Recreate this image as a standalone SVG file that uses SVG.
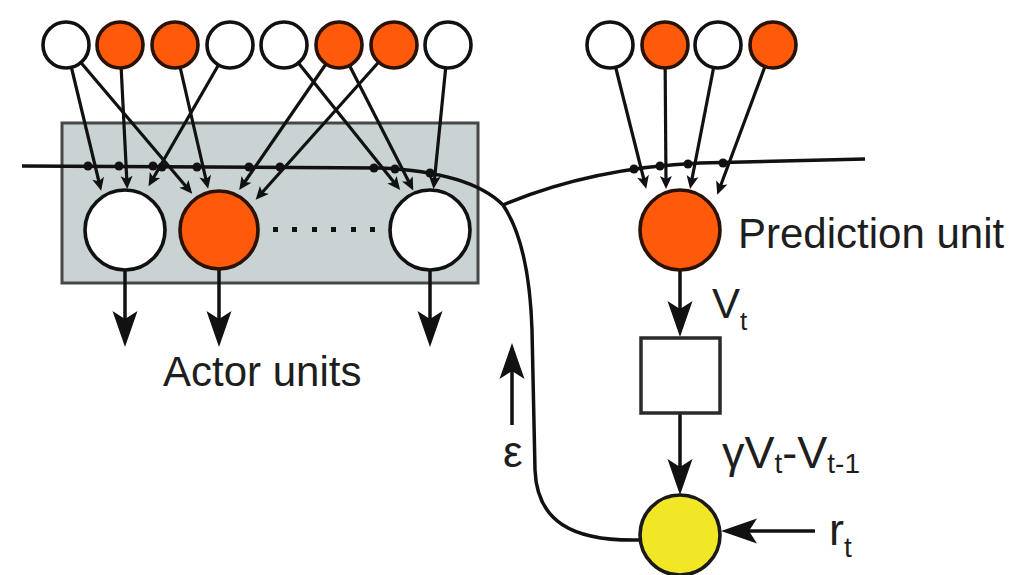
<svg xmlns="http://www.w3.org/2000/svg" width="1029" height="575" viewBox="0 0 1029 575">
<style>
  .bg { fill: #ffffff; }
  .ln { fill: none; stroke: #111; stroke-width: 3.5; }
  .syn { fill: none; stroke: #111; stroke-width: 3.2; marker-end: url(#term); }
  .arr { fill: none; stroke: #111; stroke-width: 3.5; marker-end: url(#arrow); }
  .wu { fill: #ffffff; stroke: #111; stroke-width: 3.6; }
  .ou { fill: #ff5a0a; stroke: #2a1206; stroke-width: 3.6; }
  .yu { fill: #f2e726; stroke: #1a1a1a; stroke-width: 3.6; }
  .dot { fill: #111; }
  .sq { fill: #111; }
  .lbl { font-family: "Liberation Sans", Arial, sans-serif; fill: #1e1e1e; }
</style>
<defs>
  <marker id="arrow" markerUnits="userSpaceOnUse" viewBox="-30 -14 42 28" refX="0" refY="0" markerWidth="42" markerHeight="28" orient="auto">
    <path d="M9,0 L-27,-12.5 L-19,0 L-27,12.5 Z" fill="#111"/>
  </marker>
  <marker id="term" markerUnits="userSpaceOnUse" viewBox="-10 -8 17 16" refX="0" refY="0" markerWidth="17" markerHeight="16" orient="auto">
    <path d="M5,0 L-8,-6 L-5,0 L-8,6 Z" fill="#111"/>
  </marker>
</defs>
<rect class="bg" x="0" y="0" width="1029" height="575"/>

<g id="actor-box">
  <rect x="62" y="123" width="416" height="160" fill="#c9d3d3" stroke="#474747" stroke-width="3"/>
</g>

<g id="connectors">
  <!-- inputs to actor units -->
  <path class="syn" d="M66,45 L100,186"/>
  <path class="syn" d="M66,45 L189,190"/>
  <path class="syn" d="M120,45 L127,184"/>
  <path class="syn" d="M175,45 L207,184"/>
  <path class="syn" d="M230,45 L151,182"/>
  <path class="syn" d="M284,45 L397,186"/>
  <path class="syn" d="M339,45 L242,186"/>
  <path class="syn" d="M339,45 L411,186"/>
  <path class="syn" d="M394,45 L259,196"/>
  <path class="syn" d="M448,45 L434,184"/>
  <!-- inputs to prediction unit -->
  <path class="syn" d="M610,45 L645,184"/>
  <path class="syn" d="M665,45 L666,184"/>
  <path class="syn" d="M718,45 L691,184"/>
  <path class="syn" d="M773,45 L719,190"/>
  <!-- reinforcement signal -->
  <path class="ln" d="M22,166 L380,168 Q470,172 503,205"/>
  <path class="ln" d="M503,205 Q590,168 700,163 L865,159"/>
  <path class="ln" d="M503,205 C520,230 530,270 532,330 L535,470 C537,520 570,542 641,540"/>
  <!-- synapse dots -->
  <circle class="dot" cx="88" cy="166" r="4.5"/>
  <circle class="dot" cx="119" cy="166" r="4.5"/>
  <circle class="dot" cx="153" cy="166" r="4.5"/>
  <circle class="dot" cx="162" cy="167" r="4.5"/>
  <circle class="dot" cx="197" cy="167" r="4.5"/>
  <circle class="dot" cx="249" cy="167" r="4.5"/>
  <circle class="dot" cx="280" cy="167" r="4.5"/>
  <circle class="dot" cx="374" cy="168" r="4.5"/>
  <circle class="dot" cx="395" cy="169" r="4.5"/>
  <circle class="dot" cx="430" cy="173" r="4.5"/>
  <circle class="dot" cx="634" cy="169" r="4.5"/>
  <circle class="dot" cx="660" cy="166" r="4.5"/>
  <circle class="dot" cx="688" cy="164" r="4.5"/>
  <circle class="dot" cx="723" cy="163" r="4.5"/>
  <!-- outputs -->
  <path class="arr" d="M125,270 L125,338"/>
  <path class="arr" d="M219,269 L219,338"/>
  <path class="arr" d="M430,270 L430,338"/>
  <path class="arr" d="M680,270 L680,328"/>
  <path class="arr" d="M680,413 L680,486"/>
  <path class="arr" d="M815,531 L730,531"/>
  <path class="arr" d="M512,425 L512,352"/>
</g>

<g id="inputs-actor">
  <circle class="wu" cx="66" cy="45" r="23"/>
  <circle class="ou" cx="120" cy="45" r="23"/>
  <circle class="ou" cx="175" cy="45" r="23"/>
  <circle class="wu" cx="230" cy="45" r="23"/>
  <circle class="wu" cx="284" cy="45" r="23"/>
  <circle class="ou" cx="339" cy="45" r="23"/>
  <circle class="ou" cx="394" cy="45" r="23"/>
  <circle class="wu" cx="448" cy="45" r="23"/>
</g>

<g id="inputs-prediction">
  <circle class="wu" cx="610" cy="45" r="23"/>
  <circle class="ou" cx="665" cy="45" r="23"/>
  <circle class="wu" cx="718" cy="45" r="23"/>
  <circle class="ou" cx="773" cy="45" r="23"/>
</g>

<g id="actor-unit-1"><circle class="wu" cx="125" cy="230" r="40"/></g>
<g id="actor-unit-2"><circle class="ou" cx="219" cy="230" r="39"/></g>
<g id="actor-dots">
  <rect class="sq" x="273" y="227" width="5" height="5"/>
  <rect class="sq" x="292" y="227" width="5" height="5"/>
  <rect class="sq" x="312" y="227" width="5" height="5"/>
  <rect class="sq" x="331" y="227" width="5" height="5"/>
  <rect class="sq" x="351" y="227" width="5" height="5"/>
  <rect class="sq" x="370" y="227" width="5" height="5"/>
</g>
<g id="actor-unit-3"><circle class="wu" cx="430" cy="230" r="40"/></g>

<g id="prediction-unit">
  <circle class="ou" cx="680" cy="230" r="40"/>
  <text class="lbl" x="738" y="248" font-size="42">Prediction unit</text>
</g>

<g id="delay-box">
  <rect x="641" y="338" width="79" height="75" fill="#ffffff" stroke="#2a2a2a" stroke-width="3.5"/>
</g>

<g id="error-unit">
  <circle class="yu" cx="680" cy="535" r="40"/>
</g>

<g id="labels">
  <text class="lbl" x="163" y="386" font-size="42">Actor units</text>
  <text class="lbl" x="712" y="318" font-size="42">V<tspan font-size="26" dy="12">t</tspan></text>
  <text class="lbl" x="722" y="468" font-size="45">γV<tspan font-size="28" dy="5">t</tspan><tspan dy="-5">-V</tspan><tspan font-size="28" dy="5">t-1</tspan></text>
  <text class="lbl" x="829" y="545" font-size="45">r<tspan font-size="28" dy="12">t</tspan></text>
  <text class="lbl" x="503" y="467" font-size="44">ε</text>
</g>
</svg>
